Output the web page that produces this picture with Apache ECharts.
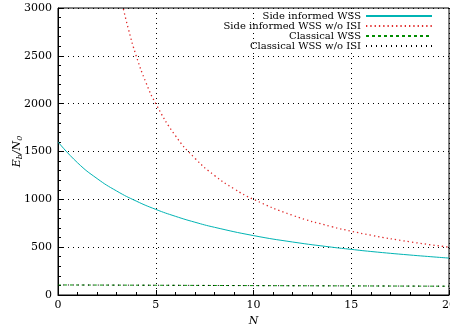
<!DOCTYPE html>
<html>
<head>
<meta charset="utf-8">
<script src="https://cdn.jsdelivr.net/npm/echarts@6/dist/echarts.min.js"></script>
<style>
  html, body { margin: 0; padding: 0; background: #fff; }
  #chart { width: 450px; height: 327px; }
</style>
</head>
<body>
<div id="chart"></div>
<script>
// values
var sideInformed = [[0, 1600], [1, 1382], [2, 1217], [3, 1087], [4, 982], [5, 895], [6, 823], [7, 761],
  [8, 708], [10, 621], [12, 554], [14, 500], [15, 477], [16, 455], [18, 418], [20, 386]]
var sideInformedNoIsi = [[3.3, 3030], [3.6, 2780], [4, 2500], [4.5, 2220], [5, 2000], [6, 1667], [7, 1430],
  [8, 1250], [9, 1111], [10, 1000], [12, 833], [14, 714], [15, 667], [16, 625], [18, 556], [20, 500]]
var classical = [[0, 105], [5, 102], [10, 98], [15, 95], [20, 92]]
var classicalNoIsi = [[0, 105], [5, 102], [10, 98], [15, 95], [20, 92]]
var xTicks = [0, 5, 10, 15, 20]
var yTicks = [0, 500, 1000, 1500, 2000, 2500, 3000]

var serif = 'DejaVu Serif'
var chart = echarts.init(document.getElementById('chart'))

function lineSeries(name, data, color, type, width) {
  return {
    name: name,
    type: 'line',
    data: data,
    smooth: true,
    symbol: 'none',
    clip: true,
    lineStyle: { color: color, width: width, type: type },
    itemStyle: { color: color }
  }
}

function plain(v) {
  return String(v) // no thousands separator
}

chart.setOption({
  animation: false,
  backgroundColor: '#fff',
  grid: {
    left: 58, right: 1, top: 8, bottom: 32,
    outerBoundsMode: 'none', containLabel: false,
    show: true, borderColor: '#000', borderWidth: 1
  },
  legend: {
    orient: 'vertical',
    right: 12, top: 6,
    align: 'right',
    itemWidth: 66, itemHeight: 9, itemGap: 0,
    itemStyle: { opacity: 0 },
    textStyle: { fontFamily: serif, fontSize: 10, color: '#000', lineHeight: 9 },
    data: ['Side informed WSS', 'Side informed WSS w/o ISI', 'Classical WSS', 'Classical WSS w/o ISI']
  },
  xAxis: {
    type: 'value', min: xTicks[0], max: xTicks[xTicks.length - 1], interval: 5,
    name: 'N', nameLocation: 'middle', nameGap: 20,
    nameTextStyle: { fontFamily: serif, fontStyle: 'italic', fontSize: 11, color: '#000' },
    axisLine: { show: true, lineStyle: { color: '#000' } },
    axisTick: { inside: true, length: 5, lineStyle: { color: '#000' } },
    minorTick: { show: true, splitNumber: 5, length: 3, lineStyle: { color: '#000' } },
    axisLabel: { fontFamily: serif, fontSize: 11, color: '#000', margin: 5, formatter: plain },
    splitLine: { show: true, lineStyle: { color: '#000', type: [1, 4], width: 1 } }
  },
  yAxis: {
    type: 'value', min: yTicks[0], max: yTicks[yTicks.length - 1], interval: 500,
    name: '{i|E}{s|b}{i|/N}{s|0}', nameLocation: 'middle', nameGap: 34, nameRotate: 90,
    nameMoveOverlap: false,
    nameTextStyle: {
      rich: {
        i: { fontFamily: serif, fontStyle: 'italic', fontSize: 11, color: '#000' },
        s: { fontFamily: serif, fontStyle: 'italic', fontSize: 8, color: '#000', padding: [5, 0, 0, 0] }
      }
    },
    axisLine: { show: true, lineStyle: { color: '#000' } },
    axisTick: { inside: true, length: 5, lineStyle: { color: '#000' } },
    minorTick: { show: true, splitNumber: 5, length: 3, lineStyle: { color: '#000' } },
    axisLabel: { fontFamily: serif, fontSize: 11, color: '#000', margin: 6, formatter: plain },
    splitLine: { show: true, lineStyle: { color: '#000', type: [1, 4], width: 1 } }
  },
  series: [
    lineSeries('Side informed WSS', sideInformed, '#00b4b4', 'solid', 1),
    lineSeries('Side informed WSS w/o ISI', sideInformedNoIsi, '#e02828', [1.3, 3], 1.3),
    lineSeries('Classical WSS', classical, '#008c00', [3, 3], 1),
    lineSeries('Classical WSS w/o ISI', classicalNoIsi, '#000', [1, 4], 1)
  ]
})
</script>
</body>
</html>
